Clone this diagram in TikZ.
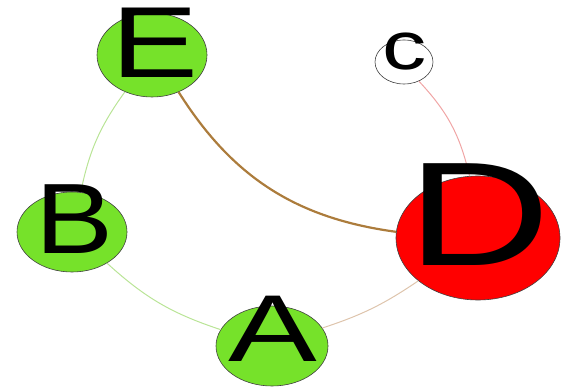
\documentclass[tikz,border=0pt]{standalone}
\usepackage{fontspec}
\setmainfont{Liberation Sans}
\usetikzlibrary{shapes.geometric}
\definecolor{nodegreen}{RGB}{118,226,42}
\definecolor{nodered}{RGB}{255,0,0}
\definecolor{edgegreen}{RGB}{185,228,150}
\definecolor{edgebrown}{RGB}{172,124,60}
\definecolor{edgetan}{RGB}{222,196,172}
\definecolor{edgepink}{RGB}{240,165,165}
\tikzset{
  vertex/.style={ellipse, draw=black!75, line width=0.6pt, inner sep=0pt},
  letter/.style={inner sep=0pt, text=black},
  thinedge/.style={line width=1pt},
}
\newcommand{\bigletter}[3]{\fontsize{#1}{#1}\selectfont\scalebox{#2}[1]{#3}}
\begin{document}
\begin{tikzpicture}[x=1pt,y=1pt]
\useasboundingbox (0,0) rectangle (569,388);
% ellipses
\node[vertex, fill=nodegreen, minimum width=110pt, minimum height=84pt] (E) at (152,333) {};
\node[vertex, fill=white, minimum width=58pt, minimum height=44pt] (C) at (404,326) {};
\node[vertex, fill=nodegreen, minimum width=110pt, minimum height=80pt] (B) at (72,156) {};
\node[vertex, fill=nodered, minimum width=164pt, minimum height=124pt] (D) at (478,150) {};
\node[vertex, fill=nodegreen, minimum width=112pt, minimum height=80pt] (A) at (272,42) {};
% edges
\draw[edgegreen, thinedge] (E) to[bend right=12] (B);
\draw[edgegreen, thinedge] (B) to[bend right=12] (A);
\draw[edgetan, thinedge] (A) to[bend right=8] (D);
\draw[edgebrown, line width=2.2pt] (E) to[bend right=25] (D);
\draw[edgepink, thinedge] (D) to[bend right=15] (C);
% letters
\node[letter] (lE) at (154.5,345.5) {\bigletter{101}{1.29}{E}};
\node[letter] (lC) at (405,336.5) {\bigletter{68}{1.3}{c}};
\node[letter] (lB) at (75,169) {\bigletter{100}{1.17}{B}};
\node[letter] (lD) at (479,173) {\bigletter{148}{1.34}{D}};
\node[letter] (lA) at (273,59) {\bigletter{95}{1.4}{A}};
\end{tikzpicture}
\end{document}
